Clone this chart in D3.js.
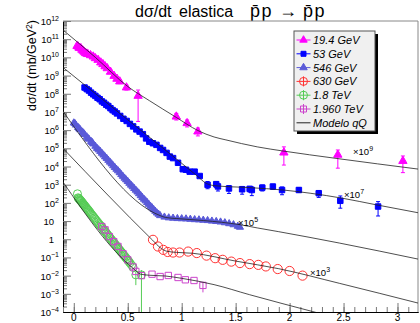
<!DOCTYPE html>
<html><head><meta charset="utf-8">
<script src="https://cdn.jsdelivr.net/npm/d3@7"></script>
<style>
html,body{margin:0;padding:0;background:#fff;}
svg{display:block;font-family:"Liberation Sans",Arial,Helvetica,sans-serif;}
</style></head><body>
<svg id="c" width="420" height="323"></svg>
<script>
// ---------------- data (values as plotted, scale factors included) ----------------
const xTickValues = [0, 0.5, 1, 1.5, 2, 2.5, 3];
const xTickLabels = ["0", "0.5", "1", "1.5", "2", "2.5", "3"];
const yTickExponents = [12, 11, 10, 9, 8, 7, 6, 5, 4, 3, 2, 1, 0, -1, -2, -3, -4];
const seriesNames = ["19.4 GeV", "53 GeV", "546 GeV", "630 GeV", "1.8 TeV", "1.960 TeV", "Modelo qQ"];
const scaleExponents = ["9", "7", "5", "3"];

// [ -t, dsigma/dt, errLow, errHigh ]
const data194 = [
  [0.03,4.2e10],[0.04,3.9e10],[0.05,3.3e10],[0.065,3.2e10],[0.075,2.6e10],[0.086,2.3e10],
  [0.097,2.0e10],[0.108,1.7e10],[0.12,1.6e10],[0.13,1.5e10],[0.155,1.3e10],[0.18,1.1e10],
  [0.2,8.9e9],[0.225,7.2e9],[0.25,5.2e9],[0.27,4.2e9],[0.29,3.2e9],[0.31,2.5e9],
  [0.34,1.6e9,1.3e9,2.0e9],[0.373,9.5e8,7.5e8,1.2e9],[0.40,6.6e8,5.2e8,8.4e8],
  [0.426,4.7e8,3.6e8,6.0e8],[0.488,2.2e8,1.6e8,3.0e8],[0.596,7.6e7,3.0e6,1.6e8],
  [0.95,5.5e6,3.6e6,8.3e6],[1.05,2.4e6,1.5e6,3.6e6],[1.15,8.3e5,4.8e5,1.3e6],
  [1.947,5.8e4,1.2e4,1.2e5],[2.447,4.4e4,8.1e3,8.1e4],[3.05,2.0e4,4.6e3,3.8e4]
];
const data53 = [
  [0.10,2.2e8],[0.12,1.8e8],[0.14,1.5e8],[0.16,1.15e8],[0.18,9.3e7],[0.20,7.6e7],[0.22,6.0e7],
  [0.24,5.0e7],[0.26,3.8e7],[0.28,3.2e7],[0.30,2.5e7],[0.32,2.1e7],[0.34,1.6e7],[0.36,1.26e7],
  [0.38,1.05e7],[0.40,8.3e6],[0.43,6.0e6],[0.46,4.2e6],[0.49,3.2e6],[0.52,2.2e6],[0.55,1.6e6],
  [0.58,1.1e6],[0.61,8.3e5],[0.64,6.0e5],[0.67,3.5e5],[0.70,2.3e5],[0.733,1.9e5],[0.766,1.55e5],
  [0.80,1.05e5],[0.827,8.1e4],[0.86,5.6e4],[0.89,3.5e4],[0.92,2.9e4],[0.966,1.6e4],[1.01,7.1e3],
  [1.04,6.6e3],[1.074,5.2e3],[1.12,5.2e3],[1.167,3.0e3],
  [1.24,980,600,1500],[1.32,1070,700,1500],[1.336,800,450,1100],[1.438,620,330,900],
  [1.56,560,300,800],[1.63,590,400,800],[1.65,510,250,750],[1.747,690,450,950],
  [1.845,790,550,1050],[1.93,510,280,750],[2.086,510,380,680],[2.27,340,200,480],
  [2.47,130,51,240],[2.82,63,19,117]
];
const data546 = [
  [0.00,2.5e6],[0.02,1.9e6],[0.04,1.4e6],[0.06,1.05e6],[0.08,7.9e5],[0.10,5.8e5],[0.12,4.3e5],
  [0.14,3.2e5],[0.16,2.4e5],[0.18,1.75e5],[0.20,1.3e5],[0.23,8.3e4],[0.26,5.4e4],[0.29,3.4e4],
  [0.32,2.2e4],[0.35,1.4e4],[0.38,8.9e3],[0.41,5.8e3],[0.44,3.6e3],[0.47,2.3e3],[0.50,1.5e3],
  [0.53,950],[0.56,620],[0.59,400],[0.62,250],[0.65,160],[0.68,105],[0.71,66],[0.74,43],
  [0.77,28],[0.80,20],[0.84,16.6],[0.88,15.1],[0.92,14.5],[0.96,13.8],[1.00,13.5],[1.04,13.2],
  [1.08,12.6],[1.12,12.0],[1.16,11.7],[1.20,11.2],[1.24,10.7],[1.28,10.0],[1.32,9.5],
  [1.36,8.9],[1.40,8.1],[1.44,7.2],[1.48,6.3],[1.52,5.2],[1.54,4.6],
  [0.01,2.3e6],[0.05,1.2e6],[0.09,6.9e5],[0.13,3.6e5],[0.17,2.1e5],[0.215,1.0e5],[0.245,6.8e4],
  [0.275,4.3e4],[0.305,2.8e4],[0.335,1.75e4],[0.365,1.1e4],[0.395,7.1e3],[0.425,4.6e3],
  [0.455,2.9e3],[0.485,1.85e3],[0.515,1.2e3],[0.545,770],[0.575,500],[0.605,320],[0.635,200],
  [0.665,130],[0.695,84],[0.725,54],[0.755,35],[0.785,24]
];
const data630 = [
  [0.734,0.93],[0.78,0.40],[0.83,0.26],[0.87,0.20],[0.92,0.186],[0.98,0.186],[1.06,0.21],
  [1.14,0.174],[1.23,0.126],[1.31,0.091],[1.38,0.074],[1.46,0.059],[1.54,0.049],[1.63,0.043],
  [1.71,0.039],[1.78,0.032],[1.89,0.023],[2.00,0.018],[2.12,0.010]
];
const data1800 = [
  [0.034,316],[0.04,190],[0.05,166],[0.06,141],[0.07,120],[0.08,100],[0.09,83],[0.10,72],
  [0.115,55],[0.13,43],[0.145,33],[0.16,25],[0.18,18],[0.20,12.6],[0.22,8.9],[0.24,6.3],
  [0.26,4.6],[0.28,3.2],[0.30,2.3],[0.32,1.6],[0.34,1.12],[0.36,0.79],[0.38,0.56],[0.40,0.40],
  [0.42,0.28],[0.44,0.20],[0.46,0.14],[0.48,0.10],[0.50,0.071],[0.52,0.050],[0.55,0.028],
  [0.045,175],[0.055,150],[0.065,128],[0.075,108],[0.085,92],[0.095,77],[0.107,63],[0.122,49],
  [0.137,38],[0.152,29],[0.17,21],[0.19,15],[0.21,10.5],[0.23,7.4],[0.25,5.4],[0.27,3.8],
  [0.29,2.7],[0.31,1.9],[0.33,1.3],[0.35,0.95],[0.37,0.66],[0.39,0.47],[0.41,0.33],[0.43,0.24],
  [0.45,0.17],[0.47,0.12],[0.49,0.085],[0.51,0.06],[0.535,0.038],
  [0.575,0.011,0.003,0.016],[0.627,0.011,1e-6,0.02]
];
const data1960 = [
  [0.26,5.0],[0.29,3.3],[0.33,1.4],[0.37,0.74],[0.41,0.40],[0.456,0.16],[0.50,0.074],
  [0.55,0.030],[0.575,0.017],[0.627,0.010],[0.725,0.012],[0.80,0.0089],[0.876,0.0102],
  [0.966,0.0079],[1.034,0.0059],[1.114,0.0054],[1.197,0.0029,0.0012,0.0045]
];
// model qQ curves [ -t, dsigma/dt ]
const model194 = [[-0.1,3.2e11],[0.2,1.0e10],[0.5,2.5e8],[0.7,4.2e7],[0.95,5.0e6],[1.15,9.5e5],
  [1.3,4.2e5],[1.41,2.9e5],[1.7,1.2e5],[1.94,7.1e4],[2.43,2.8e4],[3.2,7.1e3]];
const model53 = [[-0.1,2.8e9],[0.5,3.7e6],[1.0,1.5e4],[1.15,2.8e3],[1.22,1.26e3],[1.3,890],
  [1.63,690],[1.94,510],[2.19,340],[2.49,180],[2.8,79],[3.2,28]];
const model546 = [[-0.1,1.1e7],[0.8,20],[0.85,15.8],[0.95,13.8],[1.2,10.7],[1.54,6.3],
  [1.7,4.2],[1.9,2.6],[2.46,0.62],[3.2,0.079]];
const model630 = [[-0.1,1e5],[0.73,0.89],[0.8,0.35],[0.86,0.22],[0.95,0.19],[1.1,0.17],
  [1.5,0.063],[1.9,0.024],[2.46,0.0038],[3.2,3.0e-4]];
const model1800 = [[-0.1,1400],[0.55,0.025],[0.62,0.012],[0.7,0.0105],[0.85,0.0095],[1.0,0.0071],
  [1.3,0.0032],[1.63,8.9e-4],[2.21,1.07e-4],[2.4,5.4e-5]];

// ---------------- drawing ----------------
const svg = d3.select("#c");
const L = 63, R = 418, T = 21, B = 312;
const x = d3.scaleLinear().domain([-0.1, 3.19]).range([L, R]);
const y = d3.scaleLog().domain([1e-4, 1e12]).range([B, T]);

// title
const title = svg.append("text").attr("y", 17).attr("font-size", 16).attr("fill", "#000");
title.append("tspan").attr("x", 135).text("d\u03c3/dt");
title.append("tspan").attr("x", 179).text("elastica");
title.append("tspan").attr("x", 250).attr("font-size", 18).attr("letter-spacing", 1.5).text("p\u0304p");
title.append("tspan").attr("x", 279).attr("font-size", 18).text("\u2192");
title.append("tspan").attr("x", 303).attr("font-size", 18).attr("letter-spacing", 1.5).text("p\u0304p");

// y axis title
const yt = svg.append("text").attr("transform", "translate(35.5,20) rotate(-90)")
  .attr("text-anchor", "end").attr("font-size", 12.5);
yt.append("tspan").text("d\u03c3/dt (mb/GeV");
yt.append("tspan").attr("dy", -4).attr("font-size", 8.5).text("2");
yt.append("tspan").attr("dy", 4).text(")");

// frame
svg.append("line").attr("x1", L).attr("x2", R).attr("y1", T).attr("y2", T).attr("stroke", "#888");
svg.append("line").attr("x1", R).attr("x2", R).attr("y1", T).attr("y2", B).attr("stroke", "#888");

// y axis (ticks inward)
const majorY = yTickExponents.map(e => Math.pow(10, e));
const minorY = [];
yTickExponents.forEach(e => { if (e < 12) for (let m = 2; m <= 9; m++) minorY.push(m * Math.pow(10, e)); });
const gy1 = svg.append("g").attr("transform", `translate(${L},0)`)
  .call(d3.axisRight(y).tickValues(minorY).tickSize(4).tickSizeOuter(0).tickFormat(""));
const gy2 = svg.append("g").attr("transform", `translate(${L},0)`)
  .call(d3.axisRight(y).tickValues(majorY).tickSize(8).tickSizeOuter(0).tickFormat(""));
[gy1, gy2].forEach(g => { g.selectAll(".tick line").attr("stroke", "#777"); g.select(".domain").attr("stroke", "#000"); });

yTickExponents.forEach(e => {
  const t = svg.append("text").attr("x", e === 0 || e === 1 ? 54 : 59).attr("y", y(Math.pow(10, e)) + 4)
    .attr("text-anchor", "end").attr("font-size", 9.5);
  if (e === 0) t.text("1");
  else if (e === 1) t.text("10");
  else { t.append("tspan").text("10"); t.append("tspan").attr("dy", -4).attr("font-size", 7).text(String(e).replace("-", "\u2212")); }
});

// x axis (ticks inward)
const minorX = d3.range(-0.1, 3.15, 0.1).map(v => Math.round(v * 10) / 10);
const gx1 = svg.append("g").attr("transform", `translate(0,${B})`)
  .call(d3.axisTop(x).tickValues(minorX).tickSize(5).tickSizeOuter(0).tickFormat(""));
const gx2 = svg.append("g").attr("transform", `translate(0,${B})`)
  .call(d3.axisTop(x).tickValues(xTickValues).tickSize(9).tickSizeOuter(0).tickFormat(""));
[gx1, gx2].forEach(g => { g.selectAll(".tick line").attr("stroke", "#777"); g.select(".domain").attr("stroke", "#000"); });
xTickValues.forEach((v, i) => svg.append("text").attr("x", x(v)).attr("y", 321)
  .attr("text-anchor", "middle").attr("font-size", 10).text(xTickLabels[i]));

// clip
svg.append("clipPath").attr("id", "pc").append("rect").attr("x", L).attr("y", T).attr("width", R - L).attr("height", B - T);
const plot = svg.append("g").attr("clip-path", "url(#pc)");

function errBars(g, arr, color, cap) {
  arr.filter(d => d.length > 2).forEach(d => {
    const cx = x(d[0]);
    g.append("line").attr("x1", cx).attr("x2", cx).attr("y1", y(d[2])).attr("y2", y(d[3]))
      .attr("stroke", color).attr("stroke-width", 1);
    if (cap) [d[2], d[3]].forEach(v => g.append("line").attr("x1", cx - cap).attr("x2", cx + cap)
      .attr("y1", y(v)).attr("y2", y(v)).attr("stroke", color).attr("stroke-width", 1));
  });
}
function symbols(g, arr, type, size, fill, stroke) {
  g.selectAll(null).data(arr).enter().append("path")
    .attr("d", d3.symbol(type, size))
    .attr("transform", d => `translate(${x(d[0])},${y(d[1])})`)
    .attr("fill", fill).attr("stroke", stroke).attr("stroke-width", 1);
}

const c194 = "#ff00ff", c53 = "#0000ff", c546 = "#5a5ad8", c630 = "#ff3333", c1800 = "#55cc55", c1960 = "#cc44cc";

// 1.8 TeV and 1.96 TeV
errBars(plot, data1800, c1800, 0);
symbols(plot, data1800, d3.symbolCircle, Math.PI * 4 * 4, "none", c1800);
errBars(plot, data1960, c1960, 0);
symbols(plot, data1960, d3.symbolSquare, 40, "none", c1960);
// 630 GeV
symbols(plot, data630, d3.symbolCircle, Math.PI * 4.6 * 4.6, "none", c630);
// 546 GeV
symbols(plot, data546, d3.symbolTriangle, 22, c546, c546);
// 53 GeV
errBars(plot, data53, c53, 2);
symbols(plot, data53, d3.symbolSquare, 30, c53, c53);
// 19.4 GeV
errBars(plot, data194, c194, 2);
symbols(plot, data194, d3.symbolTriangle, 30, c194, c194);

// model curves
const line = d3.line().x(d => x(d[0])).y(d => y(d[1])).curve(d3.curveMonotoneX);
[model194, model53, model546, model630, model1800].forEach(m =>
  plot.append("path").attr("d", line(m)).attr("fill", "none").attr("stroke", "#222").attr("stroke-width", 0.8));

// scale notes
const notePos = [[353, 155], [344, 198], [238, 226], [310, 276]];
scaleExponents.forEach((s, i) => {
  const t = svg.append("text").attr("x", notePos[i][0]).attr("y", notePos[i][1]).attr("font-size", 9.5);
  t.append("tspan").text("\u00d710");
  t.append("tspan").attr("dy", -4).attr("font-size", 7).text(s);
});

// legend
const lg = svg.append("g");
lg.append("rect").attr("x", 297).attr("y", 34).attr("width", 81).attr("height", 100).attr("fill", "#000");
lg.append("rect").attr("x", 294).attr("y", 31).attr("width", 81).attr("height", 100)
  .attr("fill", "#f0f0f0").attr("stroke", "#555").attr("stroke-width", 1);
const legStyles = [
  {c: c194, sym: d3.symbolTriangle, size: 24, fill: true},
  {c: c53, sym: d3.symbolSquare, size: 25, fill: true},
  {c: c546, sym: d3.symbolTriangle, size: 24, fill: true},
  {c: c630, sym: d3.symbolCircle, size: Math.PI * 16, fill: false, cross: true},
  {c: c1800, sym: d3.symbolCircle, size: Math.PI * 16, fill: false, cross: true},
  {c: c1960, sym: d3.symbolSquare, size: 36, fill: false, cross: true},
  {c: "#222", sym: null}
];
seriesNames.forEach((name, i) => {
  const cy = 40 + i * 13.8, cx = 303.5, st = legStyles[i];
  lg.append("line").attr("x1", 296.5).attr("x2", 310.5).attr("y1", cy).attr("y2", cy).attr("stroke", st.c).attr("stroke-width", 1);
  if (st.cross) lg.append("line").attr("x1", cx).attr("x2", cx).attr("y1", cy - 5).attr("y2", cy + 5).attr("stroke", st.c);
  if (st.sym) lg.append("path").attr("d", d3.symbol(st.sym, st.size)).attr("transform", `translate(${cx},${cy})`)
    .attr("fill", st.fill ? st.c : "none").attr("stroke", st.c);
  lg.append("text").attr("x", 313).attr("y", cy + 4).attr("font-size", 11).attr("font-style", "italic").text(name);
});
</script></body></html>
